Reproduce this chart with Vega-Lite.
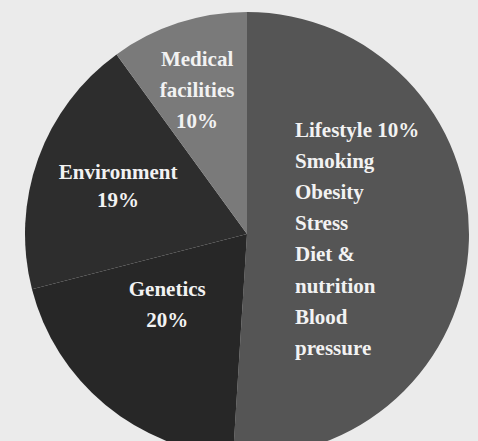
{
  "$schema": "https://vega.github.io/schema/vega-lite/v6.json",
  "width": 460,
  "height": 422,
  "autosize": "none",
  "padding": {"left": 17, "top": 23, "right": 1, "bottom": 0},
  "background": "#ebebeb",
  "view": {"stroke": null},
  "data": {"values": [
    {"factor": "Lifestyle", "share": 51, "ord": 1, "label": "Lifestyle 10%|Smoking|Obesity|Stress|Diet &|nutrition|Blood|pressure"},
    {"factor": "Genetics", "share": 20, "ord": 2, "label": "Genetics|20%"},
    {"factor": "Environment", "share": 19, "ord": 3, "label": "Environment|19%"},
    {"factor": "Medical facilities", "share": 10, "ord": 4, "label": "Medical|facilities|10%"}
  ]},
  "encoding": {
    "theta": {"field": "share", "type": "quantitative", "stack": true},
    "order": {"field": "ord", "type": "quantitative"}
  },
  "layer": [
    {
      "mark": {"type": "arc", "radius": 222},
      "encoding": {
        "color": {
          "field": "factor", "type": "nominal", "legend": null,
          "scale": {"domain": ["Lifestyle", "Genetics", "Environment", "Medical facilities"], "range": ["#555555", "#272727", "#2d2d2d", "#7a7a7a"]}
        }
      }
    },
    {
      "mark": {"type": "text", "radius": 48, "align": "left", "baseline": "middle", "dy": -105, "lineBreak": "|", "lineHeight": 31.2, "font": "Liberation Serif", "fontSize": 21, "fontWeight": "bold", "color": "#f2f2f2"},
      "encoding": {"text": {"condition": {"test": "datum.factor === 'Lifestyle'", "field": "label"}, "value": ""}}
    },
    {
      "mark": {"type": "text", "radius": 100, "align": "center", "baseline": "middle", "dx": -16, "dy": -21, "lineBreak": "|", "lineHeight": 31, "font": "Liberation Serif", "fontSize": 21, "fontWeight": "bold", "color": "#f2f2f2"},
      "encoding": {"text": {"condition": {"test": "datum.factor === 'Genetics'", "field": "label"}, "value": ""}}
    },
    {
      "mark": {"type": "text", "radius": 137, "align": "center", "baseline": "middle", "dx": 0, "dy": -15, "lineBreak": "|", "lineHeight": 28, "font": "Liberation Serif", "fontSize": 21, "fontWeight": "bold", "color": "#f2f2f2"},
      "encoding": {"text": {"condition": {"test": "datum.factor === 'Environment'", "field": "label"}, "value": ""}}
    },
    {
      "mark": {"type": "text", "radius": 181, "align": "center", "baseline": "middle", "dx": 6, "dy": -2, "lineBreak": "|", "lineHeight": 31, "font": "Liberation Serif", "fontSize": 21, "fontWeight": "bold", "color": "#f2f2f2"},
      "encoding": {"text": {"condition": {"test": "datum.factor === 'Medical facilities'", "field": "label"}, "value": ""}}
    }
  ]
}
